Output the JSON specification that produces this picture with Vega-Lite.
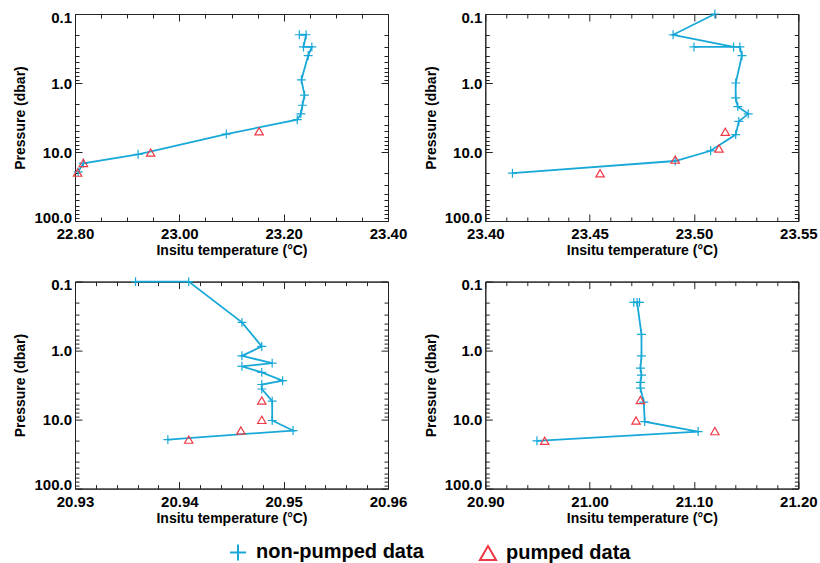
{
  "$schema": "https://vega.github.io/schema/vega-lite/v6.json",
  "background": "white",
  "padding": {"left": 13, "top": 6, "right": 0, "bottom": 0},
  "datasets": {
    "p1": [
      {"t": 23.230, "p": 0.2, "type": "non-pumped data", "seq": 1},
      {"t": 23.243, "p": 0.2, "type": "non-pumped data", "seq": 2},
      {"t": 23.238, "p": 0.3, "type": "non-pumped data", "seq": 3},
      {"t": 23.254, "p": 0.3, "type": "non-pumped data", "seq": 4},
      {"t": 23.247, "p": 0.4, "type": "non-pumped data", "seq": 5},
      {"t": 23.234, "p": 0.9, "type": "non-pumped data", "seq": 6},
      {"t": 23.240, "p": 1.5, "type": "non-pumped data", "seq": 7},
      {"t": 23.236, "p": 2.1, "type": "non-pumped data", "seq": 8},
      {"t": 23.233, "p": 2.8, "type": "non-pumped data", "seq": 9},
      {"t": 23.226, "p": 3.4, "type": "non-pumped data", "seq": 10},
      {"t": 23.090, "p": 5.5, "type": "non-pumped data", "seq": 11},
      {"t": 22.921, "p": 10.8, "type": "non-pumped data", "seq": 12},
      {"t": 22.816, "p": 14.6, "type": "non-pumped data", "seq": 13},
      {"t": 22.806, "p": 19.4, "type": "non-pumped data", "seq": 14},
      {"t": 23.153, "p": 5.0, "type": "pumped data", "seq": 1},
      {"t": 22.945, "p": 10.2, "type": "pumped data", "seq": 2},
      {"t": 22.816, "p": 14.4, "type": "pumped data", "seq": 3},
      {"t": 22.805, "p": 19.9, "type": "pumped data", "seq": 4}
    ],
    "p2": [
      {"t": 23.510, "p": 0.1, "type": "non-pumped data", "seq": 1},
      {"t": 23.490, "p": 0.2, "type": "non-pumped data", "seq": 2},
      {"t": 23.519, "p": 0.3, "type": "non-pumped data", "seq": 3},
      {"t": 23.500, "p": 0.3, "type": "non-pumped data", "seq": 4},
      {"t": 23.522, "p": 0.3, "type": "non-pumped data", "seq": 5},
      {"t": 23.523, "p": 0.4, "type": "non-pumped data", "seq": 6},
      {"t": 23.520, "p": 1.0, "type": "non-pumped data", "seq": 7},
      {"t": 23.520, "p": 1.64, "type": "non-pumped data", "seq": 8},
      {"t": 23.521, "p": 2.2, "type": "non-pumped data", "seq": 9},
      {"t": 23.526, "p": 2.8, "type": "non-pumped data", "seq": 10},
      {"t": 23.5215, "p": 3.6, "type": "non-pumped data", "seq": 11},
      {"t": 23.520, "p": 5.6, "type": "non-pumped data", "seq": 12},
      {"t": 23.508, "p": 9.6, "type": "non-pumped data", "seq": 13},
      {"t": 23.491, "p": 13.5, "type": "non-pumped data", "seq": 14},
      {"t": 23.413, "p": 20.3, "type": "non-pumped data", "seq": 15},
      {"t": 23.515, "p": 5.1, "type": "pumped data", "seq": 1},
      {"t": 23.512, "p": 8.9, "type": "pumped data", "seq": 2},
      {"t": 23.491, "p": 12.9, "type": "pumped data", "seq": 3},
      {"t": 23.455, "p": 20.3, "type": "pumped data", "seq": 4}
    ],
    "p3": [
      {"t": 20.9358, "p": 0.1, "type": "non-pumped data", "seq": 1},
      {"t": 20.9409, "p": 0.1, "type": "non-pumped data", "seq": 2},
      {"t": 20.9460, "p": 0.39, "type": "non-pumped data", "seq": 3},
      {"t": 20.9479, "p": 0.87, "type": "non-pumped data", "seq": 4},
      {"t": 20.9460, "p": 1.19, "type": "non-pumped data", "seq": 5},
      {"t": 20.9489, "p": 1.52, "type": "non-pumped data", "seq": 6},
      {"t": 20.9460, "p": 1.69, "type": "non-pumped data", "seq": 7},
      {"t": 20.9479, "p": 2.07, "type": "non-pumped data", "seq": 8},
      {"t": 20.9499, "p": 2.73, "type": "non-pumped data", "seq": 9},
      {"t": 20.9479, "p": 3.1, "type": "non-pumped data", "seq": 10},
      {"t": 20.9479, "p": 3.6, "type": "non-pumped data", "seq": 11},
      {"t": 20.9489, "p": 5.4, "type": "non-pumped data", "seq": 12},
      {"t": 20.9489, "p": 10.3, "type": "non-pumped data", "seq": 13},
      {"t": 20.9509, "p": 14.4, "type": "non-pumped data", "seq": 14},
      {"t": 20.9389, "p": 19.5, "type": "non-pumped data", "seq": 15},
      {"t": 20.9479, "p": 5.3, "type": "pumped data", "seq": 1},
      {"t": 20.9479, "p": 10.1, "type": "pumped data", "seq": 2},
      {"t": 20.9459, "p": 14.4, "type": "pumped data", "seq": 3},
      {"t": 20.9409, "p": 19.5, "type": "pumped data", "seq": 4}
    ],
    "p4": [
      {"t": 21.0423, "p": 0.2, "type": "non-pumped data", "seq": 1},
      {"t": 21.0478, "p": 0.2, "type": "non-pumped data", "seq": 2},
      {"t": 21.0455, "p": 0.2, "type": "non-pumped data", "seq": 3},
      {"t": 21.0497, "p": 0.58, "type": "non-pumped data", "seq": 4},
      {"t": 21.0497, "p": 1.19, "type": "non-pumped data", "seq": 5},
      {"t": 21.0487, "p": 1.79, "type": "non-pumped data", "seq": 6},
      {"t": 21.0497, "p": 2.26, "type": "non-pumped data", "seq": 7},
      {"t": 21.0487, "p": 2.88, "type": "non-pumped data", "seq": 8},
      {"t": 21.0487, "p": 3.5, "type": "non-pumped data", "seq": 9},
      {"t": 21.0519, "p": 5.6, "type": "non-pumped data", "seq": 10},
      {"t": 21.0528, "p": 10.7, "type": "non-pumped data", "seq": 11},
      {"t": 21.104, "p": 14.9, "type": "non-pumped data", "seq": 12},
      {"t": 20.9495, "p": 20.3, "type": "non-pumped data", "seq": 13},
      {"t": 21.0487, "p": 5.2, "type": "pumped data", "seq": 1},
      {"t": 21.0445, "p": 10.3, "type": "pumped data", "seq": 2},
      {"t": 21.120, "p": 14.7, "type": "pumped data", "seq": 3},
      {"t": 20.9569, "p": 20.3, "type": "pumped data", "seq": 4}
    ]
  },
  "columns": 2,
  "bounds": "flush",
  "spacing": {"row": 60.6, "column": 97.3},
  "concat": [
    {
      "width": 313, "height": 207,
      "data": {"name": "p1"},
      "layer": [
        {
          "transform": [{"filter": "datum.type == 'non-pumped data'"}],
          "mark": {"type": "line", "color": "#18A8D8", "strokeWidth": 1.8},
          "encoding": {
            "x": {"field": "t", "type": "quantitative", "scale": {"domain": [22.8, 23.4], "nice": false, "zero": false},
              "axis": {"orient": "bottom", "values": [22.8, 22.85, 22.9, 22.95, 23.0, 23.05, 23.1, 23.15, 23.2, 23.25, 23.3, 23.35, 23.4],
                "tickSize": {"condition": {"test": "abs(datum.value*5-round(datum.value*5))<1e-6", "value": -7}, "value": -4},
                "labelExpr": "abs(datum.value*5-round(datum.value*5))<1e-6 ? format(datum.value,'.2f') : ''",
                "title": "Insitu temperature (°C)", "labelFlush": false, "labelOverlap": false, "labelPadding": 12.5, "titlePadding": -1}},
            "y": {"field": "p", "type": "quantitative", "scale": {"type": "log", "domain": [0.1, 100], "reverse": true, "nice": false},
              "axis": {"orient": "left", "values": [0.1, 0.2, 0.3, 0.4, 0.5, 0.6, 0.7, 0.8, 0.9, 1, 2, 3, 4, 5, 6, 7, 8, 9, 10, 20, 30, 40, 50, 60, 70, 80, 90, 100],
                "tickSize": {"condition": {"test": "abs(log(datum.value)/LN10-round(log(datum.value)/LN10))<1e-6", "value": -7}, "value": -4},
                "labelExpr": "abs(log(datum.value)/LN10-round(log(datum.value)/LN10))<1e-6 ? format(datum.value,'.1f') : ''",
                "title": "Pressure (dbar)", "labelFlush": true, "labelFlushOffset": 4, "labelOverlap": false, "labelPadding": 10.5, "titlePadding": 6}},
            "order": {"field": "seq", "type": "quantitative"}
          }
        },
        {
          "transform": [{"filter": "datum.type == 'non-pumped data'"}],
          "mark": {"type": "point", "filled": false, "strokeWidth": 1.2, "size": 80, "opacity": 1},
          "encoding": {
            "x": {"field": "t", "type": "quantitative",
              "axis": {"orient": "top", "values": [22.8, 22.85, 22.9, 22.95, 23.0, 23.05, 23.1, 23.15, 23.2, 23.25, 23.3, 23.35, 23.4],
                "tickSize": {"condition": {"test": "abs(datum.value*5-round(datum.value*5))<1e-6", "value": -7}, "value": -4},
                "labels": false, "title": null}},
            "y": {"field": "p", "type": "quantitative",
              "axis": {"orient": "right", "values": [0.1, 0.2, 0.3, 0.4, 0.5, 0.6, 0.7, 0.8, 0.9, 1, 2, 3, 4, 5, 6, 7, 8, 9, 10, 20, 30, 40, 50, 60, 70, 80, 90, 100],
                "tickSize": {"condition": {"test": "abs(log(datum.value)/LN10-round(log(datum.value)/LN10))<1e-6", "value": -7}, "value": -4},
                "labels": false, "title": null}},
            "color": {"field": "type", "type": "nominal", "scale": {"domain": ["non-pumped data", "pumped data"], "range": ["#18A8D8", "#EE3A46"]}, "legend": {"title": null}},
            "shape": {"field": "type", "type": "nominal", "scale": {"domain": ["non-pumped data", "pumped data"], "range": ["M-1,0H1M0,-1V1", "triangle-up"]}, "legend": {"title": null}}
          }
        },
        {
          "transform": [{"filter": "datum.type == 'pumped data'"}],
          "mark": {"type": "point", "filled": false, "strokeWidth": 1.2, "size": 70, "opacity": 1},
          "encoding": {
            "x": {"field": "t", "type": "quantitative", "axis": null},
            "y": {"field": "p", "type": "quantitative", "axis": null},
            "color": {"field": "type", "type": "nominal", "legend": {"title": null}},
            "shape": {"field": "type", "type": "nominal", "legend": {"title": null}}
          }
        }
      ],
      "resolve": {"axis": {"x": "independent", "y": "independent"}}
    },
    {
      "width": 313, "height": 207,
      "data": {"name": "p2"},
      "layer": [
        {
          "transform": [{"filter": "datum.type == 'non-pumped data'"}],
          "mark": {"type": "line", "color": "#18A8D8", "strokeWidth": 1.8},
          "encoding": {
            "x": {"field": "t", "type": "quantitative", "scale": {"domain": [23.4, 23.55], "nice": false, "zero": false},
              "axis": {"orient": "bottom", "values": [23.4, 23.41, 23.42, 23.43, 23.44, 23.45, 23.46, 23.47, 23.48, 23.49, 23.5, 23.51, 23.52, 23.53, 23.54, 23.55],
                "tickSize": {"condition": {"test": "abs(datum.value*20-round(datum.value*20))<1e-6", "value": -7}, "value": -4},
                "labelExpr": "abs(datum.value*20-round(datum.value*20))<1e-6 ? format(datum.value,'.2f') : ''",
                "title": "Insitu temperature (°C)", "labelFlush": false, "labelOverlap": false, "labelPadding": 12.5, "titlePadding": -1}},
            "y": {"field": "p", "type": "quantitative", "scale": {"type": "log", "domain": [0.1, 100], "reverse": true, "nice": false},
              "axis": {"orient": "left", "values": [0.1, 0.2, 0.3, 0.4, 0.5, 0.6, 0.7, 0.8, 0.9, 1, 2, 3, 4, 5, 6, 7, 8, 9, 10, 20, 30, 40, 50, 60, 70, 80, 90, 100],
                "tickSize": {"condition": {"test": "abs(log(datum.value)/LN10-round(log(datum.value)/LN10))<1e-6", "value": -7}, "value": -4},
                "labelExpr": "abs(log(datum.value)/LN10-round(log(datum.value)/LN10))<1e-6 ? format(datum.value,'.1f') : ''",
                "title": "Pressure (dbar)", "labelFlush": true, "labelFlushOffset": 4, "labelOverlap": false, "labelPadding": 10.5, "titlePadding": 6}},
            "order": {"field": "seq", "type": "quantitative"}
          }
        },
        {
          "transform": [{"filter": "datum.type == 'non-pumped data'"}],
          "mark": {"type": "point", "filled": false, "strokeWidth": 1.2, "size": 80, "opacity": 1},
          "encoding": {
            "x": {"field": "t", "type": "quantitative",
              "axis": {"orient": "top", "values": [23.4, 23.41, 23.42, 23.43, 23.44, 23.45, 23.46, 23.47, 23.48, 23.49, 23.5, 23.51, 23.52, 23.53, 23.54, 23.55],
                "tickSize": {"condition": {"test": "abs(datum.value*20-round(datum.value*20))<1e-6", "value": -7}, "value": -4},
                "labels": false, "title": null}},
            "y": {"field": "p", "type": "quantitative",
              "axis": {"orient": "right", "values": [0.1, 0.2, 0.3, 0.4, 0.5, 0.6, 0.7, 0.8, 0.9, 1, 2, 3, 4, 5, 6, 7, 8, 9, 10, 20, 30, 40, 50, 60, 70, 80, 90, 100],
                "tickSize": {"condition": {"test": "abs(log(datum.value)/LN10-round(log(datum.value)/LN10))<1e-6", "value": -7}, "value": -4},
                "labels": false, "title": null}},
            "color": {"field": "type", "type": "nominal", "legend": {"title": null}},
            "shape": {"field": "type", "type": "nominal", "legend": {"title": null}}
          }
        },
        {
          "transform": [{"filter": "datum.type == 'pumped data'"}],
          "mark": {"type": "point", "filled": false, "strokeWidth": 1.2, "size": 70, "opacity": 1},
          "encoding": {
            "x": {"field": "t", "type": "quantitative", "axis": null},
            "y": {"field": "p", "type": "quantitative", "axis": null},
            "color": {"field": "type", "type": "nominal", "legend": {"title": null}},
            "shape": {"field": "type", "type": "nominal", "legend": {"title": null}}
          }
        }
      ],
      "resolve": {"axis": {"x": "independent", "y": "independent"}}
    },
    {
      "width": 313, "height": 207,
      "data": {"name": "p3"},
      "layer": [
        {
          "transform": [{"filter": "datum.type == 'non-pumped data'"}],
          "mark": {"type": "line", "color": "#18A8D8", "strokeWidth": 1.8},
          "encoding": {
            "x": {"field": "t", "type": "quantitative", "scale": {"domain": [20.93, 20.96], "nice": false, "zero": false},
              "axis": {"orient": "bottom", "values": [20.93, 20.932, 20.934, 20.936, 20.938, 20.94, 20.942, 20.944, 20.946, 20.948, 20.95, 20.952, 20.954, 20.956, 20.958, 20.96],
                "tickSize": {"condition": {"test": "abs(datum.value*100-round(datum.value*100))<1e-6", "value": -7}, "value": -4},
                "labelExpr": "abs(datum.value*100-round(datum.value*100))<1e-6 ? format(datum.value,'.2f') : ''",
                "title": "Insitu temperature (°C)", "labelFlush": false, "labelOverlap": false, "labelPadding": 12.5, "titlePadding": -1}},
            "y": {"field": "p", "type": "quantitative", "scale": {"type": "log", "domain": [0.1, 100], "reverse": true, "nice": false},
              "axis": {"orient": "left", "values": [0.1, 0.2, 0.3, 0.4, 0.5, 0.6, 0.7, 0.8, 0.9, 1, 2, 3, 4, 5, 6, 7, 8, 9, 10, 20, 30, 40, 50, 60, 70, 80, 90, 100],
                "tickSize": {"condition": {"test": "abs(log(datum.value)/LN10-round(log(datum.value)/LN10))<1e-6", "value": -7}, "value": -4},
                "labelExpr": "abs(log(datum.value)/LN10-round(log(datum.value)/LN10))<1e-6 ? format(datum.value,'.1f') : ''",
                "title": "Pressure (dbar)", "labelFlush": true, "labelFlushOffset": 4, "labelOverlap": false, "labelPadding": 10.5, "titlePadding": 6}},
            "order": {"field": "seq", "type": "quantitative"}
          }
        },
        {
          "transform": [{"filter": "datum.type == 'non-pumped data'"}],
          "mark": {"type": "point", "filled": false, "strokeWidth": 1.2, "size": 80, "opacity": 1},
          "encoding": {
            "x": {"field": "t", "type": "quantitative",
              "axis": {"orient": "top", "values": [20.93, 20.932, 20.934, 20.936, 20.938, 20.94, 20.942, 20.944, 20.946, 20.948, 20.95, 20.952, 20.954, 20.956, 20.958, 20.96],
                "tickSize": {"condition": {"test": "abs(datum.value*100-round(datum.value*100))<1e-6", "value": -7}, "value": -4},
                "labels": false, "title": null}},
            "y": {"field": "p", "type": "quantitative",
              "axis": {"orient": "right", "values": [0.1, 0.2, 0.3, 0.4, 0.5, 0.6, 0.7, 0.8, 0.9, 1, 2, 3, 4, 5, 6, 7, 8, 9, 10, 20, 30, 40, 50, 60, 70, 80, 90, 100],
                "tickSize": {"condition": {"test": "abs(log(datum.value)/LN10-round(log(datum.value)/LN10))<1e-6", "value": -7}, "value": -4},
                "labels": false, "title": null}},
            "color": {"field": "type", "type": "nominal", "legend": {"title": null}},
            "shape": {"field": "type", "type": "nominal", "legend": {"title": null}}
          }
        },
        {
          "transform": [{"filter": "datum.type == 'pumped data'"}],
          "mark": {"type": "point", "filled": false, "strokeWidth": 1.2, "size": 70, "opacity": 1},
          "encoding": {
            "x": {"field": "t", "type": "quantitative", "axis": null},
            "y": {"field": "p", "type": "quantitative", "axis": null},
            "color": {"field": "type", "type": "nominal", "legend": {"title": null}},
            "shape": {"field": "type", "type": "nominal", "legend": {"title": null}}
          }
        }
      ],
      "resolve": {"axis": {"x": "independent", "y": "independent"}}
    },
    {
      "width": 313, "height": 207,
      "data": {"name": "p4"},
      "layer": [
        {
          "transform": [{"filter": "datum.type == 'non-pumped data'"}],
          "mark": {"type": "line", "color": "#18A8D8", "strokeWidth": 1.8},
          "encoding": {
            "x": {"field": "t", "type": "quantitative", "scale": {"domain": [20.9, 21.2], "nice": false, "zero": false},
              "axis": {"orient": "bottom", "values": [20.9, 20.92, 20.94, 20.96, 20.98, 21.0, 21.02, 21.04, 21.06, 21.08, 21.1, 21.12, 21.14, 21.16, 21.18, 21.2],
                "tickSize": {"condition": {"test": "abs(datum.value*10-round(datum.value*10))<1e-6", "value": -7}, "value": -4},
                "labelExpr": "abs(datum.value*10-round(datum.value*10))<1e-6 ? format(datum.value,'.2f') : ''",
                "title": "Insitu temperature (°C)", "labelFlush": false, "labelOverlap": false, "labelPadding": 12.5, "titlePadding": -1}},
            "y": {"field": "p", "type": "quantitative", "scale": {"type": "log", "domain": [0.1, 100], "reverse": true, "nice": false},
              "axis": {"orient": "left", "values": [0.1, 0.2, 0.3, 0.4, 0.5, 0.6, 0.7, 0.8, 0.9, 1, 2, 3, 4, 5, 6, 7, 8, 9, 10, 20, 30, 40, 50, 60, 70, 80, 90, 100],
                "tickSize": {"condition": {"test": "abs(log(datum.value)/LN10-round(log(datum.value)/LN10))<1e-6", "value": -7}, "value": -4},
                "labelExpr": "abs(log(datum.value)/LN10-round(log(datum.value)/LN10))<1e-6 ? format(datum.value,'.1f') : ''",
                "title": "Pressure (dbar)", "labelFlush": true, "labelFlushOffset": 4, "labelOverlap": false, "labelPadding": 10.5, "titlePadding": 6}},
            "order": {"field": "seq", "type": "quantitative"}
          }
        },
        {
          "transform": [{"filter": "datum.type == 'non-pumped data'"}],
          "mark": {"type": "point", "filled": false, "strokeWidth": 1.2, "size": 80, "opacity": 1},
          "encoding": {
            "x": {"field": "t", "type": "quantitative",
              "axis": {"orient": "top", "values": [20.9, 20.92, 20.94, 20.96, 20.98, 21.0, 21.02, 21.04, 21.06, 21.08, 21.1, 21.12, 21.14, 21.16, 21.18, 21.2],
                "tickSize": {"condition": {"test": "abs(datum.value*10-round(datum.value*10))<1e-6", "value": -7}, "value": -4},
                "labels": false, "title": null}},
            "y": {"field": "p", "type": "quantitative",
              "axis": {"orient": "right", "values": [0.1, 0.2, 0.3, 0.4, 0.5, 0.6, 0.7, 0.8, 0.9, 1, 2, 3, 4, 5, 6, 7, 8, 9, 10, 20, 30, 40, 50, 60, 70, 80, 90, 100],
                "tickSize": {"condition": {"test": "abs(log(datum.value)/LN10-round(log(datum.value)/LN10))<1e-6", "value": -7}, "value": -4},
                "labels": false, "title": null}},
            "color": {"field": "type", "type": "nominal", "legend": {"title": null}},
            "shape": {"field": "type", "type": "nominal", "legend": {"title": null}}
          }
        },
        {
          "transform": [{"filter": "datum.type == 'pumped data'"}],
          "mark": {"type": "point", "filled": false, "strokeWidth": 1.2, "size": 70, "opacity": 1},
          "encoding": {
            "x": {"field": "t", "type": "quantitative", "axis": null},
            "y": {"field": "p", "type": "quantitative", "axis": null},
            "color": {"field": "type", "type": "nominal", "legend": {"title": null}},
            "shape": {"field": "type", "type": "nominal", "legend": {"title": null}}
          }
        }
      ],
      "resolve": {"axis": {"x": "independent", "y": "independent"}}
    }
  ],
  "resolve": {"scale": {"color": "shared", "shape": "shared"}},
  "config": {
    "font": "Liberation Sans",
    "view": {"stroke": "#222", "strokeWidth": 1},
    "axis": {
      "grid": false,
      "domainColor": "#222",
      "domainWidth": 1,
      "tickColor": "#222",
      "tickWidth": 1,
      "labelFont": "Liberation Sans",
      "labelFontWeight": "bold",
      "labelFontSize": 15,
      "labelColor": "#000",
      "titleFont": "Liberation Sans",
      "titleFontWeight": "bold",
      "titleFontSize": 14,
      "titleColor": "#000"
    },
    "legend": {
      "orient": "none",
      "legendX": 153,
      "legendY": 528,
      "direction": "horizontal",
      "labelFont": "Liberation Sans",
      "labelFontWeight": "bold",
      "labelFontSize": 20,
      "labelColor": "#000",
      "symbolSize": 260,
      "symbolStrokeWidth": 2,
      "columnPadding": 51,
      "labelOffset": 8,
      "labelLimit": 400
    }
  }
}
